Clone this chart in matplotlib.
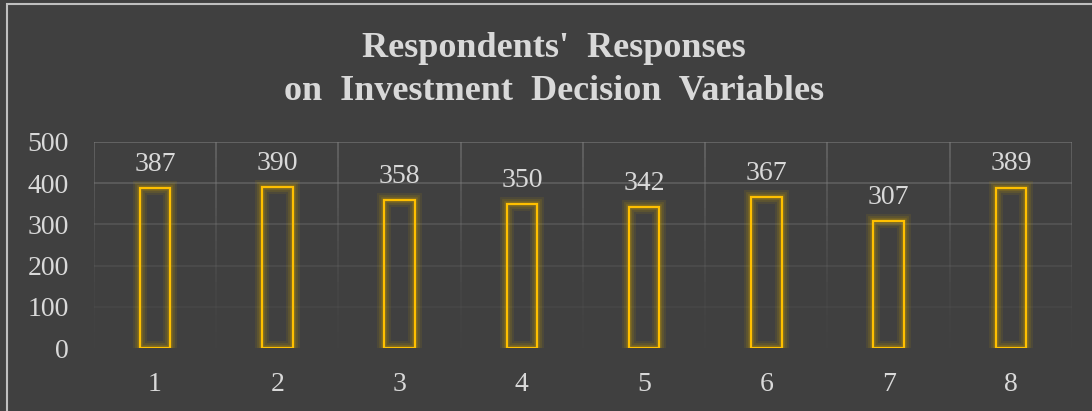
import numpy as np
import matplotlib.pyplot as plt

categories = ["1", "2", "3", "4", "5", "6", "7", "8"]
values = [387, 390, 358, 350, 342, 367, 307, 389]
yticks = [0, 100, 200, 300, 400, 500]

bg = "#404040"
gold = "#ffc000"
txt = "#d9d9d9"
plt.rcParams["font.family"] = ["Liberation Serif", "DejaVu Serif"]

fig = plt.figure(figsize=(10.92, 4.11), dpi=100, facecolor=bg)
ax = fig.add_axes([0.086, 0.153, 0.8957, 0.502], facecolor=bg)

x = np.arange(len(categories))

# fading gridlines
for v in yticks[1:]:
    ax.axhline(v, color="#808080", lw=1.2, alpha=0.05 + 0.6 * (v / 500) ** 1.5, zorder=0)
steps = 25
for b in np.arange(-0.5, len(categories) + 0.5, 1.0):
    for i in range(steps):
        y0 = 500 * i / steps
        y1 = 500 * (i + 1) / steps
        ax.plot([b, b], [y0, y1], color="#808080", lw=1.2,
                alpha=0.02 + 0.6 * (i / steps) ** 1.5, zorder=0, solid_capstyle="butt")

# glow
for lw, a in [(10, 0.10), (7, 0.15), (4, 0.22)]:
    ax.bar(x, values, width=0.25, facecolor="none", edgecolor="#c8a000",
           linewidth=lw, alpha=a, zorder=2)
bars = ax.bar(x, values, width=0.25, facecolor="none", edgecolor=gold,
              linewidth=1.6, zorder=3)

for xi, v in zip(x, values):
    ax.annotate(str(v), (xi, v), xytext=(0, 8), textcoords="offset points",
                ha="center", va="bottom", color=txt, fontsize=20)

ax.set_xlim(-0.5, len(categories) - 0.5)
ax.set_ylim(0, 500)
ax.set_xticks(x)
ax.set_xticklabels(categories)
ax.set_yticks(yticks)
ax.tick_params(axis="both", length=0, colors=txt, labelsize=20)
ax.tick_params(axis="x", pad=17)
ax.tick_params(axis="y", pad=18)
for s in ax.spines.values():
    s.set_visible(False)

fig.text(0.507, 0.83, "Respondents'  Responses\non  Investment  Decision  Variables",
         ha="center", va="center", color=txt, fontsize=26, fontweight="bold",
         linespacing=1.42)

fig.patches.append(plt.Rectangle((0.006, -0.01), 1.0, 1.0, transform=fig.transFigure,
                                 facecolor="none", edgecolor="#bfbfbf", lw=1.5))

fig.savefig("out.png", dpi=100, facecolor=bg)
